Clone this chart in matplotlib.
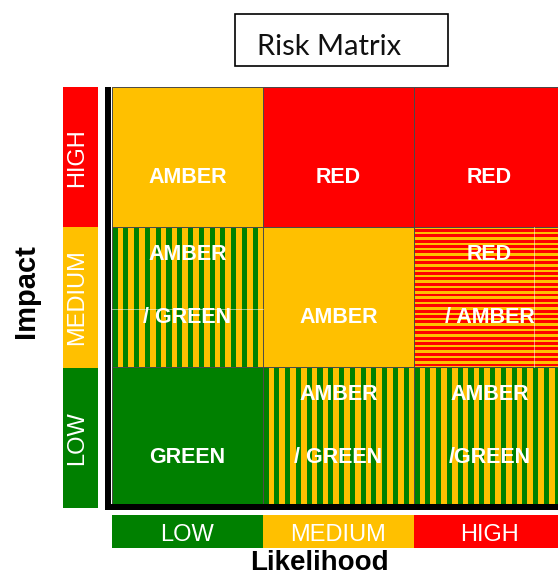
import matplotlib
matplotlib.use("Agg")
import matplotlib.pyplot as plt
from matplotlib.patches import Rectangle
import numpy as np

# ---- data ----
likelihood_levels = ["LOW", "MEDIUM", "HIGH"]
impact_levels = ["LOW", "MEDIUM", "HIGH"]          # bottom to top
# rating of each cell, rows = impact (LOW..HIGH), cols = likelihood (LOW..HIGH)
ratings = [
    ["GREEN", "AMBER/GREEN", "AMBER/GREEN"],
    ["AMBER/GREEN", "AMBER", "RED/AMBER"],
    ["AMBER", "RED", "RED"],
]
cell_labels = [
    [("GREEN",), ("AMBER", "/ GREEN"), ("AMBER", "/GREEN")],
    [("AMBER", "/ GREEN"), ("AMBER",), ("RED", "/ AMBER")],
    [("AMBER",), ("RED",), ("RED",)],
]
title = "Risk Matrix"

# ---- style ----
AMBER = "#FFC000"
RED = "#FF0000"
GREEN = "#008000"
level_colors = {"LOW": GREEN, "MEDIUM": AMBER, "HIGH": RED}
W, H = 558, 576
CELL_FONT = ["Liberation Sans", "DejaVu Sans"]


def fx(x):
    return x / W


def fy(y):
    return 1 - y / H


fig = plt.figure(figsize=(W / 100, H / 100), dpi=100)
fig.patch.set_facecolor("white")

# ---- main grid ----
ax = fig.add_axes([fx(112), fy(507), 453 / W, 420 / H])
ax.set_xlim(0, 3)
ax.set_ylim(0, 3)
ax.axis("off")

v_periods = 14   # vertical stripes per cell
h_periods = 26   # horizontal stripes per cell


def draw_cell(c, r, rating):
    if rating == "AMBER/GREEN":
        ax.add_patch(Rectangle((c, r), 1, 1, facecolor=AMBER, edgecolor="none"))
        p = 1 / v_periods
        for k in range(v_periods):
            ax.add_patch(Rectangle((c + k * p + 0.05 * p, r), 0.47 * p, 1,
                                   facecolor=GREEN, edgecolor="none"))
    elif rating == "RED/AMBER":
        ax.add_patch(Rectangle((c, r), 1, 1, facecolor=AMBER, edgecolor="none"))
        p = 1 / h_periods
        for k in range(h_periods):
            ax.add_patch(Rectangle((c, r + k * p + 0.1 * p), 1, 0.55 * p,
                                   facecolor=RED, edgecolor="none"))
    else:
        color = {"GREEN": GREEN, "AMBER": AMBER, "RED": RED}[rating]
        ax.add_patch(Rectangle((c, r), 1, 1, facecolor=color, edgecolor="none"))
    ax.add_patch(Rectangle((c, r), 1, 1, facecolor="none",
                           edgecolor="#4a4a4a", linewidth=0.7))


for r in range(3):
    for c in range(3):
        draw_cell(c, r, ratings[r][c])
        lines = cell_labels[r][c]
        if len(lines) == 1:
            ax.text(c + 0.5, r + 0.311, lines[0], ha="center", va="baseline",
                    color="white", fontsize=15.5, fontweight="bold", family=CELL_FONT)
        else:
            ax.text(c + 0.5, r + 0.764, lines[0], ha="center", va="baseline",
                    color="white", fontsize=15.5, fontweight="bold", family=CELL_FONT)
            ax.text(c + 0.5, r + 0.311, lines[1], ha="center", va="baseline",
                    color="white", fontsize=15.5, fontweight="bold", family=CELL_FONT)

# faint guide lines left from text boxes
ax.plot([0, 1], [1.414, 1.414], color="white", lw=0.6, alpha=0.6)
ax.plot([2.795, 2.795], [1, 2.0], color="white", lw=0.6, alpha=0.6)

# ---- impact bar (left) ----
axl = fig.add_axes([fx(63), fy(508), 35 / W, 421 / H])
axl.set_xlim(0, 1)
axl.set_ylim(0, 3)
axl.axis("off")
axl.barh(np.arange(3) + 0.5, 1, height=1, left=0,
         color=[level_colors[l] for l in impact_levels], edgecolor="none")
for i, lab in enumerate(impact_levels):
    axl.text(0.4, i + 0.5, lab, rotation=90, ha="center", va="center",
             color="white", fontsize=17, family=CELL_FONT)

# ---- likelihood bar (bottom) ----
axb = fig.add_axes([fx(112), fy(548), 453 / W, 33 / H])
axb.set_xlim(0, 3)
axb.set_ylim(0, 1)
axb.axis("off")
axb.bar(np.arange(3) + 0.5, 1, width=1, bottom=0,
        color=[level_colors[l] for l in likelihood_levels], edgecolor="none")
for i, lab in enumerate(likelihood_levels):
    axb.text(i + 0.5, 0.212, lab, ha="center", va="baseline",
             color="white", fontsize=17, family=CELL_FONT)

# ---- thick black L-shaped frame ----
fig.add_artist(Rectangle((fx(105), fy(510)), 6 / W, 423 / H,
                         transform=fig.transFigure, facecolor="black",
                         edgecolor="none"))
fig.add_artist(Rectangle((fx(105), fy(510)), 460 / W, 6 / H,
                         transform=fig.transFigure, facecolor="black",
                         edgecolor="none"))

# ---- axis titles ----
fig.text(fx(319), fy(569.5), "Likelihood", ha="center", va="baseline",
         fontsize=20, fontweight="bold", family=CELL_FONT)
fig.text(fx(26), fy(291), "Impact", rotation=90, ha="center", va="center",
         fontsize=21, fontweight="bold", family=CELL_FONT)

# ---- title box ----
fig.add_artist(Rectangle((fx(235), fy(66)), 213 / W, 52 / H,
                         transform=fig.transFigure, facecolor="white",
                         edgecolor="black", linewidth=1.2))
fig.text(fx(329.5), fy(55), title, ha="center", va="baseline",
         fontsize=21, family=["Lato", "DejaVu Sans"], color="#111111")

fig.savefig("out.png", dpi=100)
